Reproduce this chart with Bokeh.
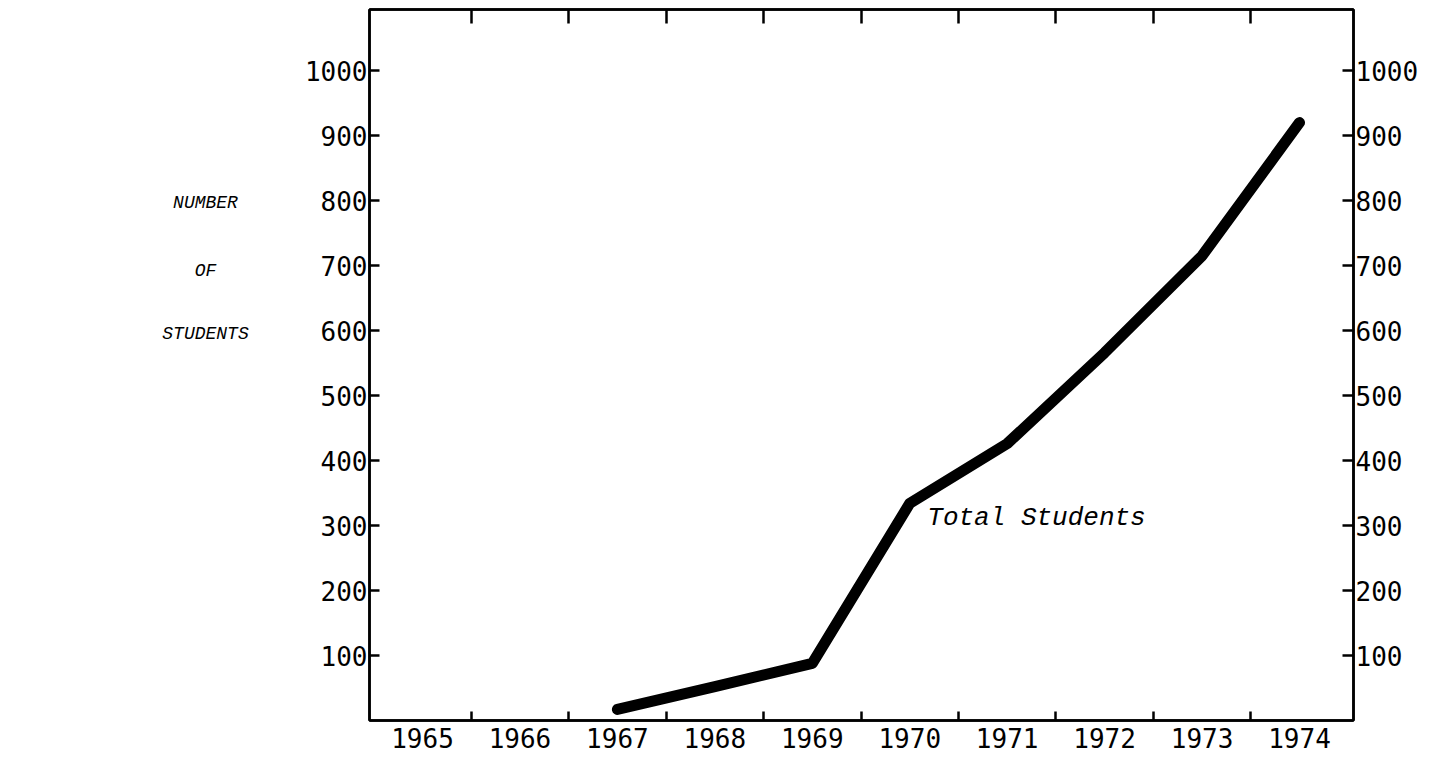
from bokeh.plotting import figure
from bokeh.models import LinearAxis, FixedTicker, Range1d, Label
from bokeh.layouts import row
from bokeh.core.properties import value
from bokeh.embed import file_html
from bokeh.resources import INLINE

years = [1967, 1968, 1969, 1970, 1971, 1972, 1973, 1974]
students = [17, 52, 88, 334, 426, 566, 715, 920]
year_ticks = [1965, 1966, 1967, 1968, 1969, 1970, 1971, 1972, 1973, 1974]
year_bounds = [1965.5, 1966.5, 1967.5, 1968.5, 1969.5, 1970.5, 1971.5, 1972.5, 1973.5]
y_ticks = [100, 200, 300, 400, 500, 600, 700, 800, 900, 1000]
axis_title = ["NUMBER", "OF", "STUDENTS"]
axis_title_y = [797, 692, 595]
series_label = "Total Students"

TICK_FONT = "DejaVu Sans Mono"
ITAL_FONT = "Liberation Mono"

H = 758
TOP = 9
BOTTOM = 38
LEFT_W = 290

yr = Range1d(0, 1094)

# left-hand panel carrying the vertical title
side = figure(width=LEFT_W, height=H, output_backend="svg", toolbar_location=None,
              x_range=Range1d(0, LEFT_W), y_range=yr,
              x_axis_location=None, y_axis_location=None,
              min_border_left=0, min_border_right=0,
              min_border_top=TOP, min_border_bottom=BOTTOM)
side.grid.visible = False
side.outline_line_color = None
side.text(x=[205, 205, 205], y=axis_title_y, text=axis_title,
          text_font=value(ITAL_FONT), text_font_style="italic",
          text_font_size="18px", text_align="center", text_baseline="middle",
          text_color="black")

p = figure(width=1430 - LEFT_W, height=H, output_backend="svg", toolbar_location=None,
           x_range=Range1d(1964.456, 1974.554), y_range=yr,
           x_axis_location=None, y_axis_location=None,
           min_border_left=369 - LEFT_W, min_border_right=1430 - 1353,
           min_border_top=TOP, min_border_bottom=BOTTOM)
p.grid.visible = False
p.outline_line_color = "black"
p.outline_line_width = 2.5


def style(ax, tick_in_major, tick_in_minor):
    ax.axis_line_color = "black"
    ax.axis_line_width = 2.5
    ax.major_tick_in = tick_in_major
    ax.major_tick_out = 0
    ax.minor_tick_in = tick_in_minor
    ax.minor_tick_out = 0
    ax.major_tick_line_width = 2.5
    ax.minor_tick_line_width = 2.5
    ax.major_tick_line_color = "black"
    ax.minor_tick_line_color = "black"
    ax.major_label_text_font = TICK_FONT
    ax.major_label_text_font_size = "26px"
    ax.major_label_text_color = "black"


bottom = LinearAxis(ticker=FixedTicker(ticks=year_ticks, minor_ticks=year_bounds))
style(bottom, 0, 9)
bottom.major_label_standoff = 7
p.add_layout(bottom, "below")

top = LinearAxis(ticker=FixedTicker(ticks=[], minor_ticks=year_bounds))
style(top, 0, 14)
top.major_label_standoff = 0
p.add_layout(top, "above")

left = LinearAxis(ticker=FixedTicker(ticks=y_ticks, minor_ticks=[]))
style(left, 10, 0)
left.major_label_standoff = 2
left.major_label_text_baseline = "alphabetic"
p.add_layout(left, "left")

right = LinearAxis(ticker=FixedTicker(ticks=y_ticks, minor_ticks=[]))
style(right, 11, 0)
right.major_label_standoff = 2
right.major_label_text_baseline = "alphabetic"
p.add_layout(right, "right")

p.line(years, students, line_width=11, line_color="black",
       line_cap="round", line_join="round")

p.add_layout(Label(x=1970.18, y=311, text=series_label, text_font=ITAL_FONT,
                   text_font_style="italic", text_font_size="26px",
                   text_align="left", text_baseline="middle",
                   text_color="black"))

layout = row(side, p)
open("out.html", "w").write(file_html(layout, INLINE))
